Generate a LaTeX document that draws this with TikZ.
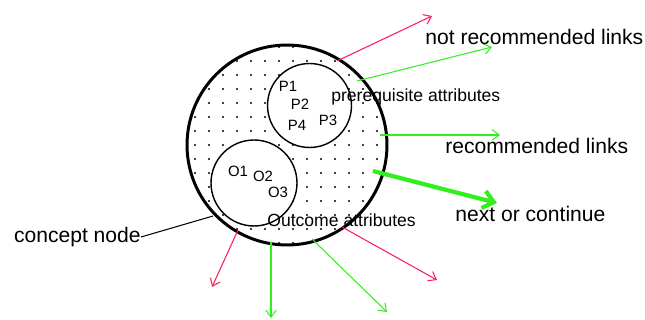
\documentclass[tikz,border=0pt]{standalone}
\usepackage{fontspec}
\setmainfont{Liberation Sans}
\usetikzlibrary{arrows.meta}
\definecolor{linkred}{RGB}{250,30,90}
\definecolor{linkgreen}{RGB}{50,240,30}

\begin{document}
\begin{tikzpicture}[x=0.02cm, y=-0.02cm,
  badlink/.style={-{Straight Barb[length=4pt,width=6pt]}, linkred, line width=0.6pt},
  goodlink/.style={-{Straight Barb[length=4pt,width=6pt]}, linkgreen, line width=0.6pt},
  biglbl/.style={font=\fontsize{12}{14}\selectfont, inner sep=0pt},
  attrlbl/.style={font=\fontsize{10}{12}\selectfont, inner sep=0pt},
  itemlbl/.style={font=\fontsize{8.5}{10}\selectfont, inner sep=0pt}]
  \useasboundingbox (0,0) rectangle (645,320);

  \node[circle, minimum size=4cm, inner sep=0pt] (concept) at (287,145) {};

  % dotted fill of the concept node
  \begin{scope}
    \clip (concept.center) circle (2cm);
    \foreach \x in {181,195,...,391}
      \foreach \y in {47,61,...,243}
        \fill (\x,\y) circle (0.6pt);
  \end{scope}

  \node[circle, draw, fill=white, line width=0.8pt, minimum size=1.68cm, inner sep=0pt] (prereq) at (309.5,105.5) {};
  \node[circle, draw, fill=white, line width=0.8pt, minimum size=1.72cm, inner sep=0pt] (outcome) at (254,183) {};
  \draw[line width=1.7pt] (concept.center) circle (2cm);

  % items
  \node[itemlbl] (p1) at (288,86) {P1};
  \node[itemlbl] (p2) at (300,104) {P2};
  \node[itemlbl] (p4) at (297,125) {P4};
  \node[itemlbl] (p3) at (328,120) {P3};
  \node[itemlbl] (o1) at (238,171) {O1};
  \node[itemlbl] (o2) at (263,176) {O2};
  \node[itemlbl] (o3) at (278,192) {O3};

  \node[attrlbl, anchor=west] (prelbl) at (331,97) {prerequisite attributes};
  \node[attrlbl, anchor=west] (outlbl) at (267,220) {Outcome attributes};

  % links
  \coordinate (s1) at (337,61);  \coordinate (e1) at (432,16);
  \coordinate (s2) at (357,81);  \coordinate (e2) at (492,47);
  \coordinate (s3) at (380,135); \coordinate (e3) at (500,135);
  \coordinate (s4) at (373,171); \coordinate (e4) at (497,203);
  \coordinate (s5) at (342,227); \coordinate (e5) at (437,280);
  \coordinate (s6) at (312,239); \coordinate (e6) at (387,312);
  \coordinate (s7) at (271,242); \coordinate (e7) at (271,318);
  \coordinate (s8) at (238,230); \coordinate (e8) at (212,287);

  \draw[badlink] (s1) -- (e1);
  \draw[goodlink] (s2) -- (e2);
  \draw[goodlink] (s3) -- (e3);
  \draw[-{Straight Barb[length=6pt,width=10pt]}, linkgreen, line width=2.4pt] (s4) -- (e4);
  \draw[badlink] (s5) -- (e5);
  \draw[goodlink] (s6) -- (e6);
  \draw[goodlink] (s7) -- (e7);
  \draw[badlink] (s8) -- (e8);

  \node[biglbl, anchor=west] (notrec) at (425,37) {not recommended links};
  \node[biglbl, anchor=west] (rec) at (445,146) {recommended links};
  \node[biglbl, anchor=west] (next) at (455,214) {next or continue};
  \node[biglbl, anchor=east] (cnode) at (141,237) {concept node};

  \coordinate (cedge) at (213,216);
  \draw[line width=0.6pt] (cnode.east) -- (cedge);
\end{tikzpicture}
\end{document}
